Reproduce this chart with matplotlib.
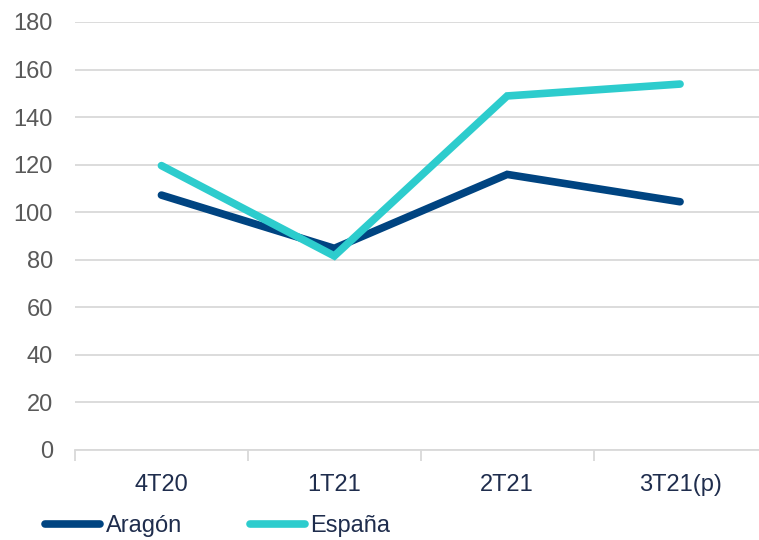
import matplotlib.pyplot as plt

plt.rcParams['font.family'] = ['Liberation Sans', 'DejaVu Sans']

quarters = ['4T20', '1T21', '2T21', '3T21(p)']
aragon = [107.2, 84.8, 115.9, 104.4]
espana = [119.6, 81.6, 148.9, 153.9]

fig = plt.figure(figsize=(7.59, 5.40), dpi=100)
ax = fig.add_axes([75 / 759, 90 / 540, (766.5 - 75) / 759, 428 / 540])

x = range(len(quarters))
ax.plot(x, aragon, color='#004481', linewidth=5.5, solid_capstyle='round', solid_joinstyle='miter', label='Aragón', zorder=3)
ax.plot(x, espana, color='#2DCCCD', linewidth=5.5, solid_capstyle='round', solid_joinstyle='miter', label='España', zorder=4)

ax.set_xlim(-0.5, 3.5)
ax.set_ylim(0, 180)
ax.set_yticks(range(0, 181, 20))
ax.set_xticks(list(x))
ax.set_xticklabels(quarters)
ax.set_xticks([-0.5, 0.5, 1.5, 2.5, 3.5], minor=True)

ax.grid(axis='y', color='#D9D9D9', linewidth=1.3)
ax.set_axisbelow(True)
for s in ['left', 'right', 'top']:
    ax.spines[s].set_visible(False)
ax.spines['bottom'].set_color('#D9D9D9')
ax.spines['bottom'].set_linewidth(1.3)

ax.tick_params(axis='y', length=0, labelsize=17, labelcolor='#595959', pad=16)
ax.tick_params(axis='x', which='major', length=0, labelsize=17, labelcolor='#1F2D4D', pad=17)
ax.tick_params(axis='x', which='minor', length=8, color='#D9D9D9', width=1.3)

fig.legend(loc='center left', bbox_to_anchor=(36 / 759, 1 - 526 / 540), ncol=2, frameon=False,
           fontsize=17, handlelength=2.3, handletextpad=0.25, columnspacing=2.9,
           labelcolor='#1F2D4D', borderaxespad=0)

fig.savefig('out.png', dpi=100)
